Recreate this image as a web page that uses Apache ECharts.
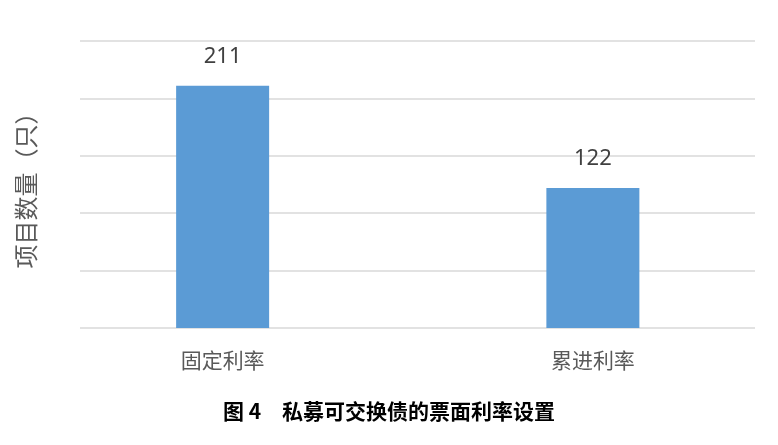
<!DOCTYPE html>
<html><head><meta charset="utf-8">
<script src="https://cdn.jsdelivr.net/npm/echarts@6/dist/echarts.min.js"></script>
<style>html,body{margin:0;padding:0;background:#fff}#c{width:778px;height:445px}</style>
</head><body><div id="c"></div>
<script>
const categories = ['固定利率', '累进利率'];
const counts = [211, 122];
const yTicks = { min: 0, max: 250, interval: 50 };
const yName = '项目数量（只）';
const caption = '图 4　私募可交换债的票面利率设置';

const chart = echarts.init(document.getElementById('c'));
chart.setOption({
  animation: false,
  title: {
    text: caption, left: 'center', top: 396,
    textStyle: { fontFamily: 'Noto Sans CJK SC', fontWeight: 'bold', fontSize: 21, color: '#000' }
  },
  grid: [
    { left: 80, right: 23, top: 41, bottom: 117 },
    { left: 37.5, width: 762, top: 41, bottom: 117 }
  ],
  xAxis: [
    { gridIndex: 0, type: 'category', data: categories, show: false },
    { gridIndex: 1, type: 'category', data: categories,
      axisLine: { show: false }, axisTick: { show: false },
      axisLabel: { margin: 22, fontSize: 21, color: '#595959', fontFamily: 'Noto Sans CJK SC' } }
  ],
  yAxis: [
    { gridIndex: 0, type: 'value', ...yTicks,
      name: yName, nameLocation: 'middle', nameGap: 42, nameRotate: 90,
      nameTextStyle: { fontSize: 24, color: '#595959', fontFamily: 'Noto Sans CJK SC' },
      axisLabel: { show: false }, axisLine: { show: false }, axisTick: { show: false },
      splitLine: { lineStyle: { color: '#d9d9d9', width: 1.5 } } },
    { gridIndex: 1, type: 'value', ...yTicks, show: false, splitLine: { show: false } }
  ],
  series: [{
    type: 'bar', xAxisIndex: 1, yAxisIndex: 1, data: counts, barWidth: 93,
    itemStyle: { color: '#5B9BD5' },
    label: { show: true, position: 'top', distance: 18, fontSize: 22, color: '#404040', fontFamily: 'Noto Sans' }
  }]
});
</script></body></html>
